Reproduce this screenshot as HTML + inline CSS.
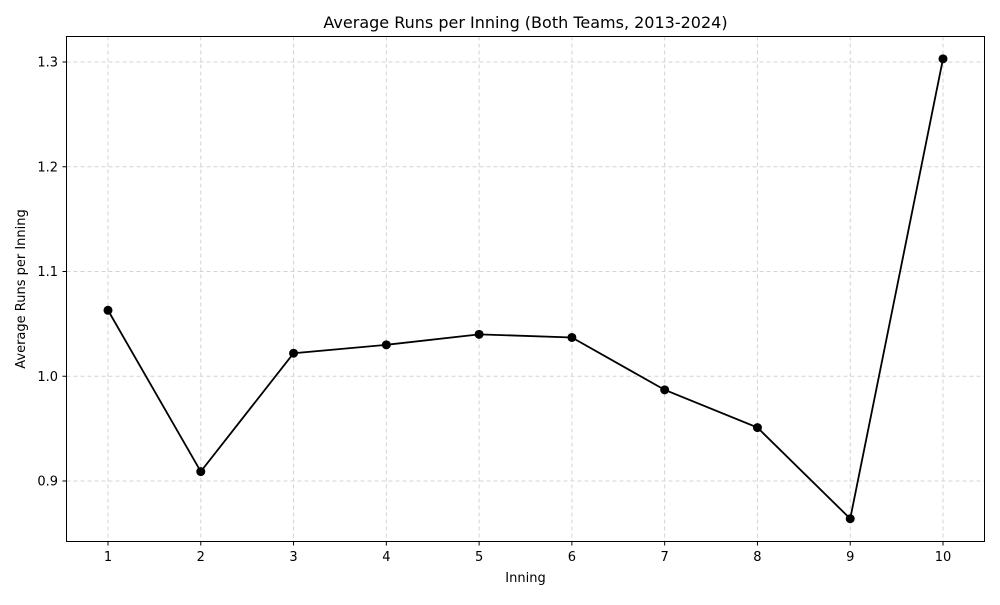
<!DOCTYPE html>
<html><head><meta charset="utf-8"><style>
body{margin:0;background:#fff;font-family:"Liberation Sans","DejaVu Sans",sans-serif;}
svg text{font-family:"DejaVu Sans","Liberation Sans",sans-serif;}
</style></head><body>
<svg id="chart" width="1000" height="600" xmlns="http://www.w3.org/2000/svg">
<rect width="1000" height="600" fill="#fff"/>
<text x="525.5" y="28" text-anchor="middle" font-size="16">Average Runs per Inning (Both Teams, 2013-2024)</text>
<g id="grid"></g><g id="ticks"></g><g id="series"></g>
<rect x="66.5" y="36.5" width="918" height="505" fill="none" stroke="#000" stroke-width="1"/>
<text x="525.5" y="582" text-anchor="middle" font-size="13">Inning</text>
<text transform="translate(25,289) rotate(-90)" text-anchor="middle" font-size="13">Average Runs per Inning</text>
</svg>
<script>
const innings=[1,2,3,4,5,6,7,8,9,10];
const avgRuns=[1.063,0.909,1.022,1.030,1.040,1.037,0.987,0.951,0.864,1.303];
const yTicks=[0.9,1.0,1.1,1.2,1.3];
const yTickLabels=["0.9","1.0","1.1","1.2","1.3"];
const NS="http://www.w3.org/2000/svg";
const xs=v=>108+(v-1)*(943-108)/9;
const ys=v=>62+(1.3-v)*1047.5;
function mk(t,a,p){const e=document.createElementNS(NS,t);for(const k in a)e.setAttribute(k,a[k]);p.appendChild(e);return e;}
const g=document.getElementById('grid'),tk=document.getElementById('ticks'),s=document.getElementById('series');
innings.forEach(v=>{const x=xs(v);
const l=mk('line',{x1:x,x2:x,y1:36.5,y2:541.5,stroke:'#d3d3d3','stroke-dasharray':'4,3'},g);


mk('line',{x1:x,x2:x,y1:541.5,y2:545.5,stroke:'#000'},tk);
const t=mk('text',{x:x,y:561,'text-anchor':'middle','font-size':13},tk);t.textContent=v;

});
yTicks.forEach((v,i)=>{const y=ys(v);
const l=mk('line',{x1:66.5,x2:984.5,y1:y,y2:y,stroke:'#d3d3d3','stroke-dasharray':'4,3'},g);


mk('line',{x1:62.5,x2:66.5,y1:y,y2:y,stroke:'#000'},tk);
const t=mk('text',{x:58,y:y+4.5,'text-anchor':'end','font-size':13},tk);t.textContent=yTickLabels[i];

});
const pl=mk('polyline',{points:innings.map((v,i)=>xs(v)+','+ys(avgRuns[i])).join(' '),fill:'none',stroke:'#000','stroke-width':1.8},s);


innings.forEach((v,i)=>{const c=mk('circle',{cx:xs(v),cy:ys(avgRuns[i]),r:4.5,fill:'#000'},s);

});
</script>
</body></html>
